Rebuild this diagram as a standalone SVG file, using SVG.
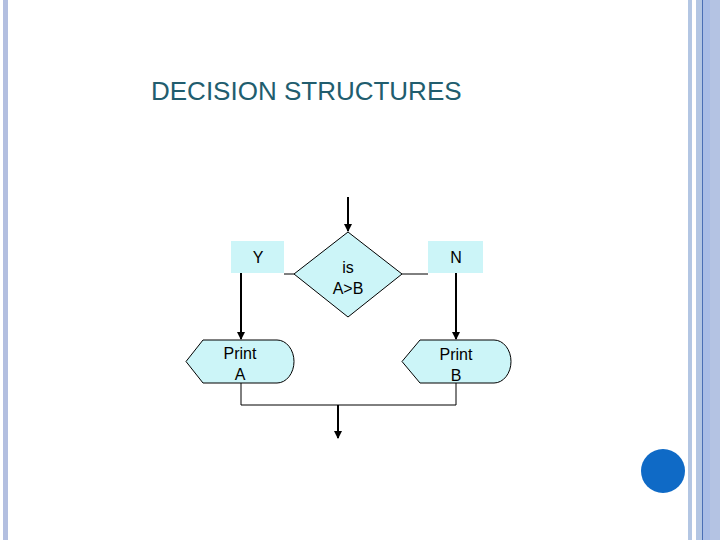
<svg xmlns="http://www.w3.org/2000/svg" width="720" height="540" viewBox="0 0 720 540">
<defs>
<marker id="ah" markerWidth="8" markerHeight="8" refX="7" refY="4" orient="auto" markerUnits="userSpaceOnUse"><path d="M0,0 L8,4 L0,8 z" fill="#000"/></marker>
<style>
.sh{fill:#ccf5f8;stroke:#000;stroke-width:1}
.lb{fill:#ccf5f8}
.t{font-family:"Liberation Sans",Arial,sans-serif;font-size:16px;text-anchor:middle;fill:#000}
.c{fill:none;stroke:#000;stroke-width:1}
.a{fill:none;stroke:#000;stroke-width:2;marker-end:url(#ah)}
</style>
</defs>
<rect width="720" height="540" fill="#fff"/>
<rect x="3" y="0" width="5" height="540" fill="#b3bfe0"/>
<rect x="688" y="0" width="4" height="540" fill="#b3c6e3"/>
<rect x="696" y="0" width="6" height="540" fill="#b3c6e3"/>
<rect x="702" y="0" width="1" height="540" fill="#4a6fb5"/>
<rect x="703" y="0" width="7" height="540" fill="#a9bde6"/>
<rect x="710" y="0" width="10" height="540" fill="#b4c3e3"/>
<circle cx="663" cy="471" r="22" fill="#0f6ac6"/>
<text x="151" y="100" font-family="Liberation Sans,Arial,sans-serif" font-size="26" fill="#215d6e">DECISION STRUCTURES</text>
<g id="connectors">
<path class="a" d="M348,197 V231"/>
<path class="c" d="M294,274 H284"/>
<path class="c" d="M402,274 H428"/>
<path class="a" d="M241,273 V339"/>
<path class="a" d="M456,273 V339"/>
<path class="c" d="M241,383 V405 H456 V383"/>
<path class="a" d="M338,405 V438"/>
</g>
<g id="decision"><path class="sh" d="M348,232 L402,274 L348,317 L294,274 z"/><text class="t" x="348" y="273">is</text><text class="t" x="348" y="294">A&gt;B</text></g>
<g id="labelY"><rect class="lb" x="231" y="241" width="53" height="32"/><text class="t" x="258" y="263">Y</text></g>
<g id="labelN"><rect class="lb" x="428" y="241" width="55" height="32"/><text class="t" x="456" y="263">N</text></g>
<g id="printA"><path class="sh" d="M203,340 H277 A17,21.5 0 0 1 277,383 H203 L186,361.5 z"/><text class="t" x="240" y="359">Print</text><text class="t" x="240" y="380">A</text></g>
<g id="printB"><path class="sh" d="M420,340 H494 A17,21.5 0 0 1 494,383 H420 L402,361.5 z"/><text class="t" x="456" y="360">Print</text><text class="t" x="456" y="381">B</text></g>
</svg>
